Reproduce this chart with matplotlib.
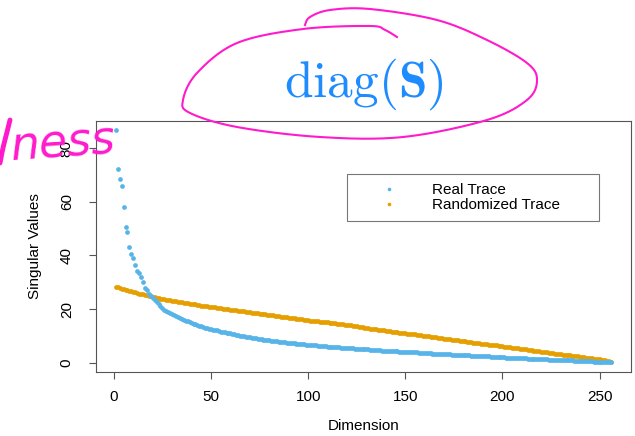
import numpy as np
import matplotlib
matplotlib.use("Agg")
import matplotlib.pyplot as plt
from matplotlib.lines import Line2D

# ---------------- data ----------------
real_trace = [
    86.9, 72.4, 68.5, 66.0, 58.1, 50.5, 48.9, 43.3, 40.6, 39.2,
    36.5, 34.3, 33.6, 31.9, 30.0, 27.8, 27.2, 25.7, 24.9, 24.1,
    23.2, 22.5, 21.7, 21.0, 20.4, 19.8, 19.3, 18.8, 18.4, 18.0,
    17.6, 17.3, 16.9, 16.6, 16.3, 16.0, 15.7, 15.4, 15.1, 14.8,
    14.5, 14.3, 14.1, 13.8, 13.6, 13.4, 13.1, 12.9, 12.7, 12.5,
    12.3, 12.1, 12.0, 11.8, 11.6, 11.5, 11.3, 11.2, 11.0, 10.9,
    10.7, 10.6, 10.4, 10.3, 10.1, 10.0, 9.9, 9.7, 9.6, 9.5,
    9.3, 9.2, 9.1, 9.0, 8.9, 8.7, 8.6, 8.5, 8.4, 8.3,
    8.2, 8.1, 8.0, 7.9, 7.8, 7.7, 7.6, 7.6, 7.5, 7.4,
    7.3, 7.2, 7.2, 7.1, 7.0, 7.0, 6.9, 6.8, 6.7, 6.7,
    6.6, 6.5, 6.5, 6.4, 6.3, 6.3, 6.2, 6.1, 6.1, 6.0,
    5.9, 5.9, 5.8, 5.8, 5.7, 5.7, 5.6, 5.5, 5.5, 5.4,
    5.4, 5.3, 5.3, 5.2, 5.2, 5.1, 5.1, 5.0, 5.0, 4.9,
    4.9, 4.8, 4.8, 4.7, 4.7, 4.6, 4.6, 4.5, 4.5, 4.4,
    4.4, 4.3, 4.3, 4.3, 4.2, 4.2, 4.1, 4.1, 4.0, 4.0,
    4.0, 3.9, 3.9, 3.8, 3.8, 3.8, 3.7, 3.7, 3.6, 3.6,
    3.6, 3.5, 3.5, 3.4, 3.4, 3.4, 3.3, 3.3, 3.2, 3.2,
    3.2, 3.1, 3.1, 3.0, 3.0, 2.9, 2.9, 2.9, 2.8, 2.8,
    2.7, 2.7, 2.7, 2.6, 2.6, 2.5, 2.5, 2.5, 2.4, 2.4,
    2.3, 2.3, 2.3, 2.2, 2.2, 2.2, 2.1, 2.1, 2.0, 2.0,
    2.0, 1.9, 1.9, 1.9, 1.8, 1.8, 1.7, 1.7, 1.7, 1.6,
    1.6, 1.6, 1.5, 1.5, 1.5, 1.4, 1.4, 1.3, 1.3, 1.3,
    1.2, 1.2, 1.2, 1.1, 1.1, 1.1, 1.0, 1.0, 1.0, 0.9,
    0.9, 0.9, 0.8, 0.8, 0.8, 0.8, 0.7, 0.7, 0.7, 0.6,
    0.6, 0.6, 0.6, 0.5, 0.5, 0.5, 0.4, 0.4, 0.4, 0.3,
    0.3, 0.3, 0.2, 0.2, 0.1, 0.05,
]

randomized_trace = [
    28.4, 28.1, 27.8, 27.6, 27.4, 27.2, 27.0, 26.8, 26.6, 26.4,
    26.2, 26.0, 25.8, 25.6, 25.5, 25.3, 25.1, 24.9, 24.7, 24.5,
    24.4, 24.2, 24.1, 23.9, 23.8, 23.7, 23.5, 23.4, 23.2, 23.1,
    23.0, 22.9, 22.7, 22.6, 22.5, 22.4, 22.2, 22.1, 22.0, 21.9,
    21.8, 21.7, 21.6, 21.4, 21.3, 21.2, 21.1, 21.0, 20.9, 20.8,
    20.7, 20.6, 20.5, 20.4, 20.3, 20.2, 20.1, 20.0, 19.9, 19.8,
    19.7, 19.6, 19.5, 19.4, 19.3, 19.2, 19.1, 19.0, 18.9, 18.8,
    18.7, 18.6, 18.5, 18.4, 18.3, 18.2, 18.1, 18.0, 17.9, 17.8,
    17.7, 17.6, 17.5, 17.4, 17.3, 17.2, 17.1, 17.0, 16.9, 16.8,
    16.7, 16.6, 16.5, 16.4, 16.3, 16.2, 16.1, 16.0, 15.9, 15.8,
    15.7, 15.6, 15.5, 15.4, 15.4, 15.3, 15.2, 15.1, 15.0, 15.0,
    14.9, 14.8, 14.8, 14.7, 14.6, 14.5, 14.4, 14.3, 14.2, 14.1,
    14.0, 13.9, 13.7, 13.6, 13.5, 13.4, 13.3, 13.2, 13.0, 12.9,
    12.8, 12.7, 12.6, 12.5, 12.4, 12.3, 12.2, 12.1, 12.0, 11.9,
    11.8, 11.7, 11.6, 11.5, 11.4, 11.3, 11.2, 11.1, 11.0, 10.9,
    10.8, 10.7, 10.6, 10.5, 10.5, 10.4, 10.3, 10.2, 10.1, 10.0,
    9.9, 9.8, 9.7, 9.6, 9.5, 9.4, 9.3, 9.2, 9.1, 9.0,
    8.9, 8.8, 8.7, 8.6, 8.5, 8.4, 8.3, 8.2, 8.1, 8.0,
    7.9, 7.8, 7.7, 7.6, 7.5, 7.4, 7.3, 7.2, 7.1, 7.0,
    6.9, 6.8, 6.7, 6.7, 6.6, 6.5, 6.4, 6.3, 6.2, 6.1,
    6.0, 5.9, 5.8, 5.7, 5.6, 5.5, 5.4, 5.3, 5.2, 5.1,
    5.0, 4.9, 4.8, 4.7, 4.6, 4.5, 4.4, 4.3, 4.2, 4.1,
    4.0, 3.9, 3.8, 3.7, 3.6, 3.5, 3.4, 3.3, 3.2, 3.1,
    3.0, 2.9, 2.8, 2.8, 2.7, 2.6, 2.5, 2.4, 2.3, 2.2,
    2.1, 2.0, 1.9, 1.8, 1.7, 1.6, 1.5, 1.4, 1.3, 1.2,
    1.1, 1.0, 0.8, 0.7, 0.5, 0.3,
]

dimension = list(range(1, len(real_trace) + 1))
series_labels = ["Real Trace", "Randomized Trace"]
x_ticks = [0, 50, 100, 150, 200, 250]
y_ticks = [0, 20, 40, 60, 80]

BLUE = "#56B4E9"
ORANGE = "#E69F00"
MAGENTA = "#FF1ACB"
TITLE_BLUE = "#1E8CFF"

plt.rcParams["font.family"] = ["Liberation Sans", "DejaVu Sans"]
plt.rcParams["mathtext.fontset"] = "cm"

W, H = 635, 436
fig = plt.figure(figsize=(W / 100, H / 100), dpi=100)

def fx(px):
    return np.asarray(px, float) / W

def fy(py):
    return 1 - np.asarray(py, float) / H

ax = fig.add_axes([fx(96), fy(372), fx(631) - fx(96), fy(121) - fy(372)])

ax.plot(dimension, randomized_trace, linestyle="none", marker="o",
        markersize=3.4, markeredgewidth=0, color=ORANGE, zorder=3)
ax.plot(dimension, real_trace, linestyle="none", marker="o",
        markersize=3.4, markeredgewidth=0, color=BLUE, zorder=4)

ax.set_xlim(-9.2, 266.2)
ax.set_ylim(-3.5, 90.2)
ax.set_xticks(x_ticks)
ax.set_yticks(y_ticks)
ax.set_yticklabels([str(v) for v in y_ticks], rotation=90, va="center")
ax.tick_params(axis="both", length=5, width=0.8, color="#555555",
               labelsize=11, labelcolor="black")
ax.tick_params(axis="x", pad=8)
ax.tick_params(axis="y", pad=11)
for s in ax.spines.values():
    s.set_color("#555555")
    s.set_linewidth(0.8)

ax.set_xlabel("Dimension", fontsize=11, labelpad=11)
ax.set_ylabel("Singular Values", fontsize=11, labelpad=13)

handles = [
    Line2D([], [], linestyle="none", marker="o", markersize=2.6,
           markeredgewidth=0, color=BLUE),
    Line2D([], [], linestyle="none", marker="o", markersize=2.6,
           markeredgewidth=0, color=ORANGE),
]
ax0, ax1 = (347 - 96) / 535, (599 - 96) / 535
ay0, ay1 = (372 - 225) / 251, (372 - 174) / 251
leg = ax.legend(handles, series_labels, loc="upper left",
                bbox_to_anchor=(ax0, ay0, ax1 - ax0, ay1 - ay0),
                mode="expand", fontsize=11, frameon=True, fancybox=False,
                borderpad=0.6, labelspacing=0.05, handlelength=4.3,
                handletextpad=0.65, borderaxespad=0)
leg.get_frame().set_edgecolor("#555555")
leg.get_frame().set_linewidth(0.8)

# ---------------- annotations ----------------
fig.text(fx(364), fy(84), r"$\mathrm{diag}(\mathbf{S})$", color=TITLE_BLUE,
         fontsize=37, ha="center", va="center")

def spline(pts, n=30):
    pts = np.asarray(pts, float)
    P = np.vstack([pts[0], pts, pts[-1]])
    out = []
    for i in range(1, len(P) - 2):
        p0, p1, p2, p3 = P[i - 1], P[i], P[i + 1], P[i + 2]
        t = np.linspace(0, 1, n)[:, None]
        seg = 0.5 * ((2 * p1) + (-p0 + p2) * t + (2 * p0 - 5 * p1 + 4 * p2 - p3) * t ** 2
                     + (-p0 + 3 * p1 - 3 * p2 + p3) * t ** 3)
        out.append(seg)
    return np.vstack(out)

loop_pts = [(397, 37), (385, 30), (370, 26), (303, 29), (237, 43), (197, 73),
            (183, 100), (190, 113), (237, 127), (320, 137), (403, 137),
            (487, 120), (527, 100), (537, 80), (527, 63), (487, 40),
            (437, 20), (370, 9), (330, 10), (310, 17), (305, 25)]
c = spline(loop_pts)
fig.add_artist(Line2D(fx(c[:, 0]), fy(c[:, 1]), color=MAGENTA, lw=1.5,
                      transform=fig.transFigure, zorder=10))

# handwritten fragment at top-left
stroke = spline([(0, 163), (3, 148), (7, 132), (10, 120)], n=10)
fig.add_artist(Line2D(fx(stroke[:, 0]), fy(stroke[:, 1]), color=MAGENTA,
                      lw=3.5, solid_capstyle="round",
                      transform=fig.transFigure, zorder=10))
fig.text(fx(9), fy(160), "ness", color=MAGENTA, fontsize=33,
         fontstyle="italic", family=["DejaVu Sans"], ha="left",
         va="baseline", rotation=4, zorder=10)

fig.savefig("out.png", dpi=100)
